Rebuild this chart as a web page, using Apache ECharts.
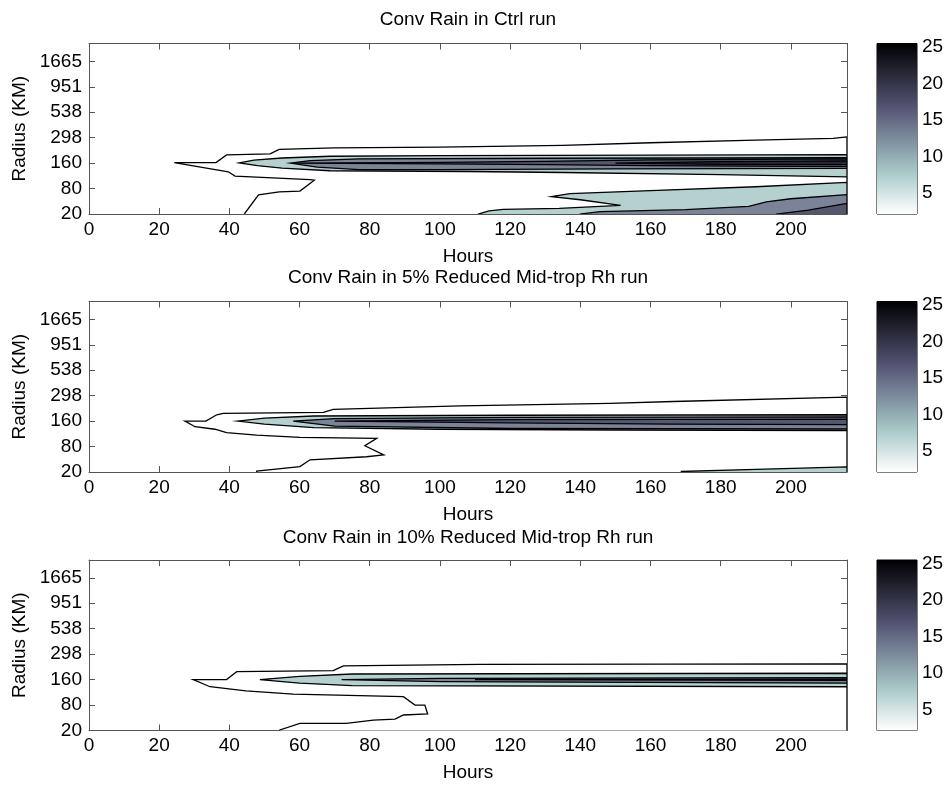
<!DOCTYPE html>
<html>
<head>
<meta charset="utf-8">
<script src="https://cdn.jsdelivr.net/npm/echarts@6/dist/echarts.min.js"></script>
<style>
html,body{margin:0;padding:0;background:#fff;}
#chart{width:949px;height:785px;}
</style>
</head>
<body>
<div id="chart"></div>
<script>
// ---------- DATA ----------
const hourTicks = [0, 20, 40, 60, 80, 100, 120, 140, 160, 180, 200];
const radiusLabels = ['20', '80', '160', '298', '538', '951', '1665'];
const colorbarTicks = [5, 10, 15, 20, 25];
const colorbarRange = [2.1, 25.5];
const hourRange = [0, 216];
const radiusRange = [0, 6.7]; // positions of radius bins (20 km = 0 ... 1665 km = 6)
const titles = ['Conv Rain in Ctrl run', 'Conv Rain in 5% Reduced Mid-trop Rh run', 'Conv Rain in 10% Reduced Mid-trop Rh run'];

// Contour regions: [hour, radius-bin position]
// Ctrl run
const ctrlLevel1 = [[24.3,2.02],[36.2,2.02],[39.2,2.32],[51.6,2.36],[54.2,2.54],[70,2.6],[100,2.63],[135,2.7],[160,2.8],[190,2.9],[212,2.97],[216,3.03],[216,-0.3],[44.2,-0.3],[44.4,0.03],[48.3,0.75],[54.2,0.87],[60.1,0.9],[64.2,1.33],[63,1.35],[41.6,1.49],[39.7,1.66],[36.4,1.73]];
const ctrlLevel2Band = [[42.8,2.01],[47,2.12],[55,2.2],[68.7,2.27],[100,2.29],[160,2.31],[216,2.33],[216,1.46],[180,1.55],[135,1.63],[108,1.67],[68.7,1.7],[55,1.8],[48,1.9]];
const ctrlLevel2Low = [[111,-0.3],[111,0],[114,0.12],[118,0.18],[134,0.22],[151.5,0.34],[140,0.56],[131.8,0.68],[137,0.8],[160,0.92],[190,1.07],[216,1.24],[216,-0.3]];
const ctrlLevel3Band = [[57.3,2.0],[63,2.1],[77,2.17],[130,2.19],[216,2.21],[216,1.79],[150,1.77],[100,1.74],[77,1.74],[65,1.84]];
const ctrlLevel3Low = [[140,-0.3],[140,0],[145.6,0.09],[170,0.17],[188,0.3],[193,0.48],[200,0.6],[216,0.76],[216,-0.3]];
const ctrlLevel4Band = [[58,2.0],[100,2.03],[130,2.07],[160,2.13],[216,2.17],[216,1.86],[160,1.9],[130,1.94],[100,1.97]];
const ctrlLevel4Low = [[196,-0.3],[196,0],[205,0.15],[216,0.42],[216,-0.3]];
const ctrlLevel5Band = [[150,2.0],[180,2.06],[216,2.09],[216,1.94],[180,1.95]];
// 5% reduced mid-trop RH run
const rh5Level1 = [[27.35,2.0],[33.3,2.0],[36.4,2.25],[38.3,2.3],[66.8,2.34],[69.6,2.46],[105.7,2.6],[148.4,2.7],[166.5,2.77],[216,2.94],[216,-0.3],[47.5,-0.3],[47.8,0.04],[60.1,0.21],[63,0.48],[79.1,0.6],[84,0.67],[78.6,1.03],[82,1.32],[60.1,1.36],[47.8,1.45],[39.2,1.55],[35.9,1.68],[30.2,1.78]];
const rh5Level2Band = [[42.3,2.0],[50,2.12],[64,2.2],[120,2.23],[216,2.25],[216,1.63],[150,1.65],[100,1.68],[64,1.74],[50,1.88]];
const rh5Level2Low = [[168.8,-0.3],[168.8,0.02],[190,0.1],[216,0.2],[216,-0.3]];
const rh5Level3Band = [[58.2,2.0],[70,2.1],[120,2.15],[216,2.17],[216,1.69],[120,1.71],[70,1.8]];
const rh5Level4Band = [[70,2.0],[120,2.06],[166,2.07],[216,2.08],[216,1.86],[166,1.88],[120,1.93]];
// 10% reduced mid-trop RH run
const rh10Level1 = [[29.7,2.0],[39.2,2.0],[42.1,2.31],[69.6,2.35],[72.5,2.54],[111.4,2.6],[216,2.62],[216,-0.3],[54.2,-0.3],[54.4,0.02],[60.1,0.28],[73.3,0.28],[81,0.41],[87.2,0.45],[89.6,0.61],[96.5,0.65],[95.7,1.0],[92.9,1.0],[89.6,1.33],[58.2,1.43],[44.7,1.56],[34.5,1.72]];
const rh10Level2Band = [[48.7,2.0],[60,2.13],[75,2.22],[216,2.25],[216,1.72],[75,1.76],[60,1.86]];
const rh10Level3Band = [[72,2.0],[100,2.05],[216,2.08],[216,1.86],[100,1.92]];
const rh10Level4Band = [[110,2.0],[216,2.02],[216,1.97]];

const panelShapes = [
  [[1, ctrlLevel1], [2, ctrlLevel2Band], [2, ctrlLevel2Low], [3, ctrlLevel3Band], [3, ctrlLevel3Low], [4, ctrlLevel4Band], [4, ctrlLevel4Low], [5, ctrlLevel5Band]],
  [[1, rh5Level1], [2, rh5Level2Band], [2, rh5Level2Low], [3, rh5Level3Band], [4, rh5Level4Band]],
  [[1, rh10Level1], [2, rh10Level2Band], [3, rh10Level3Band], [4, rh10Level4Band]]
];

// ---------- STYLE / LAYOUT ----------
const FONT = "'Liberation Sans', Arial, Helvetica, sans-serif";
const levelColors = {1: '#ffffff', 2: '#b4d1d0', 3: '#7a8398', 4: '#53586e', 5: '#27273a'};
const plotLeft = 89, plotRight = 847, cbLeft = 877, cbWidth = 40;
const panelTops = [43.5, 301.5, 560];
const panelHeight = 170.5;
const titleY = [20, 278, 538];
const axisColor = '#555';

const chart = echarts.init(document.getElementById('chart'), null, {renderer: 'canvas'});

const grid = [], xAxis = [], yAxis = [], series = [], graphic = [];
const radiusIdx = radiusLabels.map((_, i) => i);
const labelStyle = {color: '#000', fontSize: 19, fontFamily: FONT};

panelShapes.forEach((shapes, p) => {
  const top = panelTops[p];
  grid.push({left: plotLeft, width: plotRight - plotLeft, top: top, height: panelHeight, show: false});
  grid.push({left: cbLeft, width: cbWidth, top: top, height: panelHeight, show: true, borderColor: '#000', borderWidth: 1, backgroundColor: 'transparent'});
  const g = p * 2, gc = p * 2 + 1;

  const xb = xAxis.length;
  xAxis.push({
    gridIndex: g, type: 'value', min: hourRange[0], max: hourRange[1], position: 'bottom',
    axisLine: {show: true, onZero: false, lineStyle: {color: axisColor, width: 1}},
    axisTick: {show: true, inside: true, length: 6, customValues: hourTicks, lineStyle: {color: axisColor}},
    axisLabel: Object.assign({customValues: hourTicks, margin: 6}, labelStyle),
    splitLine: {show: false},
    name: 'Hours', nameLocation: 'middle', nameGap: 33,
    nameTextStyle: labelStyle
  });
  xAxis.push({
    gridIndex: g, type: 'value', min: hourRange[0], max: hourRange[1], position: 'top',
    axisLine: {show: true, onZero: false, lineStyle: {color: axisColor, width: 1}},
    axisTick: {show: true, inside: true, length: 6, customValues: hourTicks, lineStyle: {color: axisColor}},
    axisLabel: {show: false}, splitLine: {show: false}
  });
  const xc = xAxis.length;
  xAxis.push({gridIndex: gc, type: 'value', min: 0, max: 1, show: false});

  const yl = yAxis.length;
  yAxis.push({
    gridIndex: g, type: 'value', min: radiusRange[0], max: radiusRange[1], position: 'left',
    axisLine: {show: true, onZero: false, lineStyle: {color: axisColor, width: 1}},
    axisTick: {show: true, inside: true, length: 6, customValues: radiusIdx, lineStyle: {color: axisColor}},
    axisLabel: Object.assign({customValues: radiusIdx, margin: 7, formatter: v => radiusLabels[Math.round(v)]}, labelStyle),
    splitLine: {show: false},
    name: 'Radius (KM)', nameLocation: 'middle', nameGap: 53,
    nameTextStyle: labelStyle
  });
  yAxis.push({
    gridIndex: g, type: 'value', min: radiusRange[0], max: radiusRange[1], position: 'right',
    axisLine: {show: true, onZero: false, lineStyle: {color: axisColor, width: 1}},
    axisTick: {show: true, inside: true, length: 6, customValues: radiusIdx, lineStyle: {color: axisColor}},
    axisLabel: {show: false}, splitLine: {show: false}
  });
  const yc = yAxis.length;
  yAxis.push({
    gridIndex: gc, type: 'value', min: colorbarRange[0], max: colorbarRange[1], position: 'right',
    axisLine: {show: false, onZero: false},
    axisTick: {show: true, inside: true, length: 4, customValues: colorbarTicks, lineStyle: {color: '#000'}},
    axisLabel: Object.assign({customValues: colorbarTicks, margin: 5}, labelStyle),
    splitLine: {show: false}
  });
  yAxis.push({
    gridIndex: gc, type: 'value', min: colorbarRange[0], max: colorbarRange[1], position: 'left',
    axisLine: {show: false, onZero: false},
    axisTick: {show: true, inside: true, length: 4, customValues: colorbarTicks, lineStyle: {color: '#000'}},
    axisLabel: {show: false}, splitLine: {show: false}
  });

  series.push({
    type: 'custom', xAxisIndex: xb, yAxisIndex: yl, clip: true, silent: true,
    data: shapes.map(s => s[1][0]),
    encode: {x: 0, y: 1},
    renderItem: function (params, api) {
      const s = shapes[params.dataIndex];
      const pts = s[1].map(pt => api.coord(pt));
      return {
        type: 'polygon', shape: {points: pts},
        style: {fill: levelColors[s[0]], stroke: '#000', lineWidth: 1.3, lineJoin: 'miter'}
      };
    }
  });

  series.push({
    type: 'custom', xAxisIndex: xc, yAxisIndex: yc, silent: true,
    data: [[0, colorbarRange[1], 1, colorbarRange[0]]],
    encode: {x: [0, 2], y: [1, 3]},
    renderItem: function (params, api) {
      const a = api.coord([api.value(0), api.value(1)]);
      const b = api.coord([api.value(2), api.value(3)]);
      return {
        type: 'rect',
        shape: {x: a[0], y: a[1], width: b[0] - a[0], height: b[1] - a[1]},
        style: {
          fill: new echarts.graphic.LinearGradient(0, 0, 0, 1, [
            {offset: 0, color: '#000002'},
            {offset: 0.375, color: '#545474'},
            {offset: 0.75, color: '#a7c7c7'},
            {offset: 1, color: '#ffffff'}
          ])
        }
      };
    }
  });

  graphic.push({
    type: 'text', x: (plotLeft + plotRight) / 2, y: titleY[p],
    style: {text: titles[p], textAlign: 'center', textVerticalAlign: 'middle', fill: '#000', font: '19px ' + FONT}
  });
});

chart.setOption({
  animation: false,
  backgroundColor: '#fff',
  grid: grid, xAxis: xAxis, yAxis: yAxis, series: series, graphic: graphic
});
</script>
</body>
</html>
